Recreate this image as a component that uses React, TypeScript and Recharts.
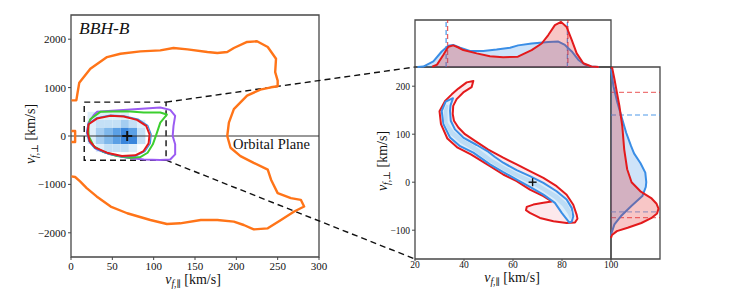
import React from 'react';
import { ScatterChart, Scatter, XAxis, YAxis, ReferenceArea, ReferenceLine } from 'recharts';

type Pair = [number, number];

// ---- left panel: v_par vs v_perp, km/s ----
const ORANGE_OUTER: Pair[] = [
  [0.5, 735], [6.5, 740], [8, 900], [10, 1100], [23.4, 1388], [43.6, 1631], [59.8, 1700], [84, 1749],
  [108, 1770], [124, 1818], [141, 1790], [165, 1735], [177, 1714], [189, 1735], [197, 1818], [213, 1943],
  [225, 1957], [238, 1839], [248, 1596], [247, 1319], [250, 1145], [250, 1027], [242, 1006], [229, 958],
  [213, 833], [197, 555], [191, 278], [189, 0], [193, -243], [205, -416], [221, -555], [238, -694],
  [242, -902], [250, -1180], [266, -1284], [278, -1319], [282, -1457], [270, -1561], [254, -1735],
  [238, -1908], [221, -1929], [209, -1839], [197, -1770], [177, -1735], [157, -1735], [132, -1804],
  [116, -1818], [96, -1735], [68, -1596], [48, -1457], [31, -1249], [19, -1076], [11, -937], [5, -847],
  [0.5, -833],
];
const ORANGE_EDGE: Pair[] = [[0.5, 104], [5, 104], [5, -125], [0.5, -125]];
const PURPLE_LEFT: Pair[] = [
  [21.3, 277], [27.4, 429], [31.4, 499], [67.7, 540], [108, 589], [120, 540], [126, 416], [124, 208],
  [123, 0], [126, -172], [126, -380], [120, -484], [108, -497], [88, -484], [67.7, -449], [47.5, -380],
  [31.4, -276], [23.3, -138], [19.3, 70],
];
const GREEN_LEFT: Pair[] = [
  [21, 208], [23.3, 346], [35.4, 499], [67.7, 512], [87.8, 485], [108, 485], [116, 443], [108, 277],
  [104, 70], [99, -172], [92.7, -346], [83.8, -435], [71.7, -449], [55.6, -414], [39.5, -332],
  [27.4, -207], [21.3, 0],
];
const BLUE_LEFT: Pair[] = [
  [20.5, 250], [31, 375], [47.5, 430], [64, 418], [81, 350], [93, 215], [97, 35], [96, -155],
  [89.5, -320], [78.5, -415], [61.5, -430], [43, -360], [28.5, -255], [21.5, -110], [19.2, 70],
];
const RED_LEFT: Pair[] = [
  [20.1, 70], [21.3, 243], [31.4, 360], [47.5, 416], [63.6, 402], [79.8, 333], [91, 208], [95, 35],
  [93.9, -152], [87.8, -311], [77.7, -400], [61.6, -414], [43.5, -345], [29.4, -241], [22.6, -103],
];
const HEAT_X = [20, 30, 40, 50, 60, 70, 80, 90];
const HEAT_Y = [500, 333, 167, 0, -167, -333];
const HEAT_LEVELS = [
  [1, 1, 1, 1, 1, 0, 0],
  [1, 2, 2, 2, 3, 2, 1],
  [1, 3, 4, 5, 6, 5, 2],
  [1, 3, 4, 5, 6, 6, 2],
  [0, 1, 2, 2, 2, 1, 0],
];
const HEAT_COLORS = ['#ffffff', '#deeefa', '#c4e0f6', '#a4cdf1', '#7fb8eb', '#5ba0e5', '#3a86dc'];
const ZOOM_BOX = { x1: 16, x2: 115, y1: -500, y2: 700 };
// corners of the zoom panel, given in left-panel units
const INSET_TOP: Pair = [416, 1425];
const INSET_BOTTOM: Pair = [416, -2541];
const REMNANT: Pair = [68, 0];
const LEFT_X_TICKS = [0, 50, 100, 150, 200, 250, 300];
const LEFT_Y_TICKS = [-2000, -1000, 0, 1000, 2000];

// ---- zoom panel ----
const RED_MAIN: Pair[] = [
  [43.8, 211], [41.1, 208], [37.7, 195], [35, 183], [32.4, 170], [30, 148], [30.6, 121], [33.2, 91],
  [37.4, 72], [42.8, 58], [50.6, 33.5], [56, 16], [61.5, 2.1], [66.9, -15.3], [72.4, -29], [75.8, -40],
  [72.4, -43], [68.3, -46.6], [65.6, -51.5], [65.3, -58.5], [66.9, -64], [71, -74.5], [76.5, -81.5],
  [81.9, -85], [85.3, -84], [86.3, -76], [86, -68], [84.6, -47], [81.9, -26], [77.8, -8.3], [72.4, 9],
  [66.9, 23], [61.5, 37], [56, 51], [49.9, 68], [44.5, 86], [40.4, 100], [37.7, 114], [35.9, 128],
  [35.4, 142], [35.6, 159], [37, 173], [39.7, 187], [43.1, 198],
];
const BLUE_MAIN: Pair[] = [
  [35.5, 175], [34.5, 160], [34.3, 148.5], [34.6, 128], [36.3, 110], [39.7, 93], [45.2, 77.5],
  [49.9, 63.5], [52.5, 53], [56, 40.6], [61.5, 25], [66.9, 12.6], [72.4, -1.4], [77.8, -18.8],
  [81.9, -36], [84, -54], [84.6, -71], [84, -82], [83, -84], [82.2, -79], [79.9, -64], [77.1, -43],
  [72.4, -26], [66.9, -9.7], [61.5, 5.6], [56, 21], [50.6, 37], [43.8, 61.5], [38.4, 75], [34.3, 93],
  [31.6, 121], [30.9, 148.5], [32.5, 168],
];
const BLUE_CORE: Pair[] = [
  [33.6, 160], [33.3, 148], [33.3, 125], [35.8, 106], [39.6, 90], [44.6, 75], [48, 62], [51.4, 49],
  [56.4, 34], [61.9, 19], [68, 5], [72.8, -10], [78.4, -27], [82, -44], [84, -62], [84, -75],
  [83.2, -76], [82.4, -66], [80.2, -50], [77, -35], [72, -18], [67.2, -3], [61.1, 11], [55.6, 26],
  [50.6, 41], [47, 54], [43.4, 67], [38.4, 82], [34.2, 100], [31.8, 125], [31.8, 150], [32.8, 162],
];
const MAIN_X_TICKS = [20, 40, 60, 80, 100];
const MAIN_Y_TICKS = [-100, 0, 100, 200];

// ---- marginals (density, arbitrary units) ----
const TOP_RED: Pair[] = [
  [27, 0.005], [29, 0.05], [31.6, 0.26], [33.6, 0.43], [35.6, 0.46], [37.5, 0.42], [39.7, 0.36],
  [45.2, 0.29], [50.6, 0.23], [56, 0.21], [62, 0.22], [67.6, 0.36], [71.7, 0.5], [74.4, 0.68],
  [77.1, 0.89], [79.6, 0.96], [81.9, 0.85], [84, 0.57], [86, 0.29], [88.7, 0.08], [92, 0.01], [95, 0],
];
const TOP_BLUE: Pair[] = [
  [21, 0], [23.4, 0.01], [27.5, 0.12], [30.9, 0.33], [33.6, 0.45], [35.6, 0.47], [38.4, 0.41],
  [42.4, 0.34], [47.9, 0.34], [53.3, 0.37], [58.8, 0.41], [62.1, 0.46], [67.6, 0.5], [74.4, 0.53],
  [78.5, 0.54], [81.2, 0.47], [84, 0.33], [86.7, 0.15], [89.4, 0.05], [92, 0.01], [95, 0],
];
const SIDE_RED: Pair[] = [
  [240, 0.02], [215, 0.07], [187, 0.12], [160, 0.17], [117, 0.23], [68, 0.27], [27, 0.33],
  [0, 0.42], [-19, 0.6], [-33, 0.82], [-45, 0.93], [-55, 0.97], [-65, 0.94], [-75, 0.82], [-85, 0.62],
  [-95, 0.34], [-102, 0.12], [-110, 0.02], [-116, 0],
];
const SIDE_BLUE: Pair[] = [
  [236, 0], [200, 0.05], [166, 0.13], [138, 0.21], [103, 0.31], [75, 0.41], [60, 0.47], [40, 0.6],
  [20, 0.7], [0, 0.72], [-10, 0.71], [-29, 0.64], [-50, 0.41], [-71, 0.2], [-88, 0.07], [-106, 0.01],
  [-112, 0],
];
const TOP_RED_LINES = [33.3, 82.4];
const TOP_BLUE_LINES = [32.7, 82.2];
const SIDE_RED_LINES = [187, -74];
const SIDE_BLUE_LINES = [140, -62];
const TOP_X_MINOR = Array.from({ length: 17 }, (_, i) => 20 + i * 5);
const TOP_Y_MINOR = Array.from({ length: 11 }, (_, i) => i / 10);
const SIDE_X_MINOR = Array.from({ length: 9 }, (_, i) => i / 8);
const SIDE_Y_MINOR = [-150, -100, -50, 0, 50, 100, 150, 200];

const FONT = '"Liberation Serif", "DejaVu Serif", serif';
const AXIS = '#474747';
const RED = '#e31a1c';
const BLUE = '#3a8ee6';

const toXY = (arr: Pair[]) => arr.map(([x, y]) => ({ x, y }));
const toVY = (arr: Pair[]) => arr.map(([y, v]) => ({ x: v, y }));
const fmt = (v: number) => (v < 0 ? '\u2212' + Math.abs(v) : String(v));
const noDot = () => <g />;
const plus = (r: number, w: number) => (p: any) => (
  <g stroke="#111" strokeWidth={w}>
    <line x1={p.cx - r} x2={p.cx + r} y1={p.cy} y2={p.cy} />
    <line x1={p.cx} x2={p.cx} y1={p.cy - r} y2={p.cy + r} />
  </g>
);

const curve = (key: string, data: { x: number; y: number }[], stroke: string, width: number,
  closed: boolean, fill = 'none', fillOpacity = 1) => (
  <Scatter key={key} data={data} shape={noDot} isAnimationActive={false}
    lineJointType={closed ? 'linearClosed' : 'linear'}
    line={{ stroke, strokeWidth: width, fill, fillOpacity, strokeLinejoin: 'round' } as any} />
);

const tickStyle = (size: number) => ({ fontSize: size, fill: '#111', fontFamily: FONT });

const VLabel = ({ sub, style }: { sub: string; style: React.CSSProperties }) => (
  <div style={{ position: 'absolute', fontFamily: FONT, fontSize: 14, whiteSpace: 'nowrap', color: '#111', ...style }}>
    <i>v</i>
    <span style={{ fontSize: 9.5, position: 'relative', top: 3 }}><i>f</i>,{sub}</span>
    <span> [km/s]</span>
  </div>
);

export default function App() {
  return (
    <div style={{ position: 'absolute', left: 0, top: 0, width: 749, height: 294, background: '#fff', fontFamily: FONT }}>
      <style>{'.recharts-surface{overflow:visible}'}</style>

      {/* left panel */}
      <div style={{ position: 'absolute', left: 0, top: 0 }}>
        <ScatterChart width={330} height={294} margin={{ top: 15, right: 11, bottom: 7, left: 21 }}>
          <XAxis type="number" dataKey="x" domain={[0, 300]} ticks={LEFT_X_TICKS} height={30}
            axisLine={false} tickLine={{ stroke: AXIS }} tickSize={3} tick={tickStyle(11)} />
          <YAxis type="number" dataKey="y" domain={[-2500, 2500]} ticks={LEFT_Y_TICKS} width={50}
            axisLine={false} tickLine={{ stroke: AXIS }} tickSize={3} tick={tickStyle(11)} tickFormatter={fmt} />
          {HEAT_LEVELS.flatMap((row, r) => row.map((lvl, c) => (lvl > 0 ? (
            <ReferenceArea key={`h${r}-${c}`} x1={HEAT_X[c]} x2={HEAT_X[c + 1]} y1={HEAT_Y[r + 1]} y2={HEAT_Y[r]}
              fill={HEAT_COLORS[lvl]} fillOpacity={1} stroke="none" ifOverflow="visible" />
          ) : null)))}
          <ReferenceLine y={0} stroke="#333" strokeWidth={1} />
          {curve('orange', toXY(ORANGE_OUTER), '#ff7418', 2.4, false)}
          {curve('orange2', toXY(ORANGE_EDGE), '#ff7418', 2.4, false)}
          {curve('purple', toXY(PURPLE_LEFT), '#9b5cf2', 2, true)}
          {curve('green', toXY(GREEN_LEFT), '#3ccf2f', 2, true)}
          {curve('blueL', toXY(BLUE_LEFT), BLUE, 1.2, true)}
          {curve('redL', toXY(RED_LEFT), RED, 2, true)}
          <Scatter data={toXY([REMNANT])} shape={plus(5, 2)} isAnimationActive={false} />
          <ReferenceArea x1={ZOOM_BOX.x1} x2={ZOOM_BOX.x2} y1={ZOOM_BOX.y1} y2={ZOOM_BOX.y2}
            fill="none" fillOpacity={0} stroke="#111" strokeWidth={1.4} strokeDasharray="6 4" />
          <ReferenceLine segment={[{ x: ZOOM_BOX.x2, y: ZOOM_BOX.y2 }, { x: INSET_TOP[0], y: INSET_TOP[1] }]}
            stroke="#111" strokeWidth={1.4} strokeDasharray="6 4" ifOverflow="visible" />
          <ReferenceLine segment={[{ x: ZOOM_BOX.x2, y: ZOOM_BOX.y1 }, { x: INSET_BOTTOM[0], y: INSET_BOTTOM[1] }]}
            stroke="#111" strokeWidth={1.4} strokeDasharray="6 4" ifOverflow="visible" />
          <ReferenceArea x1={0} x2={300} y1={-2500} y2={2500} fill="none" fillOpacity={0} stroke={AXIS} strokeWidth={1.3} />
        </ScatterChart>
      </div>
      <div style={{ position: 'absolute', left: 79, top: 19.5, fontSize: 17.5, lineHeight: 1, fontStyle: 'italic', color: '#111' }}>BBH-B</div>
      <div style={{ position: 'absolute', left: 233, top: 137, fontSize: 14.5, lineHeight: 1, color: '#111' }}>Orbital Plane</div>
      <VLabel sub={'\u22a5'} style={{ left: 31, top: 134, transform: 'translate(-50%, -50%) rotate(-90deg)' }} />
      <VLabel sub={'\u2225'} style={{ left: 193, top: 280, transform: 'translate(-50%, -50%)' }} />

      {/* zoom panel */}
      <div style={{ position: 'absolute', left: 360, top: 60 }}>
        <ScatterChart width={260} height={234} margin={{ top: 7, right: 9, bottom: 10, left: 20 }}>
          <XAxis type="number" dataKey="x" domain={[20, 100]} ticks={MAIN_X_TICKS} height={25}
            axisLine={false} tickLine={{ stroke: AXIS }} tickSize={2} tickMargin={0} tick={tickStyle(9.5)} />
          <YAxis type="number" dataKey="y" domain={[-160, 240]} ticks={MAIN_Y_TICKS} width={35}
            axisLine={false} tickLine={{ stroke: AXIS }} tickSize={3} tick={tickStyle(9.5)} tickFormatter={fmt} />
          {curve('redM', toXY(RED_MAIN), RED, 2, true, '#fce8ec', 1)}
          {curve('blueM', toXY(BLUE_MAIN), BLUE, 2, true, '#dcedfb', 1)}
          {curve('core', toXY(BLUE_CORE), 'none', 0, true, '#bcdcf5', 1)}
          <Scatter data={toXY([REMNANT])} shape={plus(4, 1.4)} isAnimationActive={false} />
          <ReferenceArea x1={20} x2={100} y1={-160} y2={240} fill="none" fillOpacity={0} stroke={AXIS} strokeWidth={1.3} />
        </ScatterChart>
      </div>
      <VLabel sub={'\u22a5'} style={{ left: 383, top: 161, transform: 'translate(-50%, -50%) rotate(-90deg)' }} />
      <VLabel sub={'\u2225'} style={{ left: 512, top: 278, transform: 'translate(-50%, -50%)' }} />

      {/* top marginal */}
      <div style={{ position: 'absolute', left: 400, top: 0 }}>
        <ScatterChart width={220} height={72} margin={{ top: 20, right: 9, bottom: 5, left: 15 }}>
          <XAxis type="number" dataKey="x" domain={[20, 100]} ticks={TOP_X_MINOR} height={0}
            axisLine={false} tick={false} tickLine={{ stroke: AXIS }} tickSize={2} />
          <YAxis type="number" dataKey="y" domain={[0, 1]} ticks={TOP_Y_MINOR} width={0}
            axisLine={false} tick={false} tickLine={{ stroke: AXIS }} tickSize={2} />
          {curve('tb', toXY(TOP_BLUE), BLUE, 2, false, BLUE, 0.25)}
          {curve('tr', toXY(TOP_RED), RED, 2, false, RED, 0.25)}
          {TOP_BLUE_LINES.map((x) => (
            <ReferenceLine key={`tb${x}`} x={x} stroke={BLUE} strokeWidth={1.3} strokeDasharray="5 3" strokeOpacity={0.85} />
          ))}
          {TOP_RED_LINES.map((x) => (
            <ReferenceLine key={`tr${x}`} x={x} stroke={RED} strokeWidth={1.3} strokeDasharray="5 3" strokeDashoffset={4} strokeOpacity={0.7} />
          ))}
          <ReferenceArea x1={20} x2={100} y1={0} y2={1} fill="none" fillOpacity={0} stroke={AXIS} strokeWidth={1.3} />
        </ScatterChart>
      </div>

      {/* right marginal */}
      <div style={{ position: 'absolute', left: 600, top: 60 }}>
        <ScatterChart width={70} height={234} margin={{ top: 7, right: 10, bottom: 35, left: 11 }}>
          <XAxis type="number" dataKey="x" domain={[0, 1]} ticks={SIDE_X_MINOR} height={0}
            axisLine={false} tick={false} tickLine={{ stroke: AXIS }} tickSize={3} />
          <YAxis type="number" dataKey="y" domain={[-160, 240]} ticks={SIDE_Y_MINOR} width={0}
            axisLine={false} tick={false} tickLine={{ stroke: AXIS }} tickSize={3} />
          {curve('sb', toVY(SIDE_BLUE), BLUE, 2, false, BLUE, 0.25)}
          {curve('sr', toVY(SIDE_RED), RED, 2, false, RED, 0.25)}
          {SIDE_RED_LINES.map((y) => (
            <ReferenceLine key={`sr${y}`} y={y} stroke={RED} strokeWidth={1.3} strokeDasharray="5 3" strokeOpacity={0.6} />
          ))}
          {SIDE_BLUE_LINES.map((y) => (
            <ReferenceLine key={`sb${y}`} y={y} stroke={BLUE} strokeWidth={1.3} strokeDasharray="5 3" strokeOpacity={0.6} />
          ))}
          <ReferenceArea x1={0} x2={1} y1={-160} y2={240} fill="none" fillOpacity={0} stroke={AXIS} strokeWidth={1.3} />
        </ScatterChart>
      </div>
    </div>
  );
}
